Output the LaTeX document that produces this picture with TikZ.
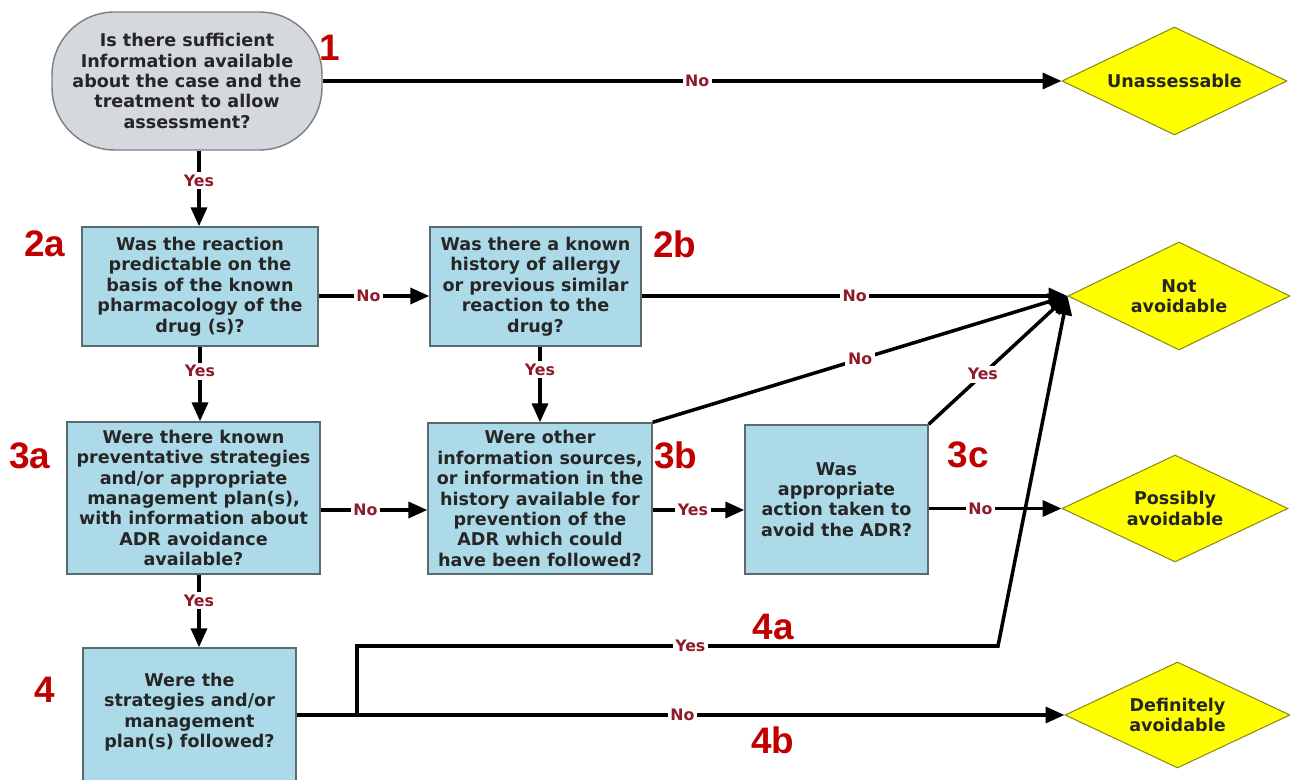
\documentclass[tikz,border=0pt]{standalone}
\usepackage{fontspec}
\setmainfont{DejaVu Sans}
\newfontfamily\numfont{Liberation Sans}
\usetikzlibrary{shapes.geometric,arrows.meta}
\definecolor{boxblue}{HTML}{ADDAE8}
\definecolor{boxedge}{HTML}{5A6A70}
\definecolor{startgray}{HTML}{D5D8DC}
\definecolor{startedge}{HTML}{7A7F85}
\definecolor{diayellow}{HTML}{FFFF00}
\definecolor{diaedge}{HTML}{8A8A20}
\definecolor{lblred}{HTML}{8E1B2B}
\definecolor{numred}{HTML}{C00000}
\begin{document}
\begin{tikzpicture}[x=0.02cm,y=-0.02cm,
  qbox/.style={draw=boxedge, line width=0.8pt, fill=boxblue, align=center,
    font=\bfseries\fontsize{10}{11.6}\selectfont, inner sep=0pt, text=black!85},
  startbox/.style={draw=startedge, line width=0.8pt, fill=startgray, align=center,
    rounded corners=1.25cm, font=\bfseries\fontsize{10}{11.6}\selectfont, inner sep=0pt, text=black!85},
  outcome/.style={diamond, aspect=2, draw=diaedge, line width=0.6pt, fill=diayellow, align=center,
    font=\bfseries\fontsize{10}{11.5}\selectfont, inner sep=0pt, text=black!85},
  conn/.style={line width=2pt, draw=black},
  arr/.style={conn, -{Triangle[length=0.38cm,width=0.32cm]}},
  lbl/.style={fill=white, inner sep=1.5pt, text=lblred, font=\bfseries\fontsize{9}{10}\selectfont},
  num/.style={text=numred, font=\numfont\bfseries\fontsize{21}{21}\selectfont, inner sep=0pt}
]
\useasboundingbox (0,0) rectangle (1295,780);
\fill[white] (0,0) rectangle (1295,780);

% nodes
\node[startbox, minimum width=5.4cm, minimum height=2.76cm] (n1) at (187,81)
  {Is there sufficient\\Information available\\about the case and the\\treatment to allow\\assessment?};
\node[qbox, minimum width=4.72cm, minimum height=2.38cm] (b2a) at (200,286.5)
  {Was the reaction\\predictable on the\\basis of the known\\pharmacology of the\\drug (s)?};
\node[qbox, minimum width=4.22cm, minimum height=2.38cm] (b2b) at (535.5,286.5)
  {Was there a known\\history of allergy\\or previous similar\\reaction to the\\drug?};
\node[qbox, minimum width=5.06cm, minimum height=3.04cm] (b3a) at (193.5,498)
  {Were there known\\preventative strategies\\and/or appropriate\\management plan(s),\\with information about\\ADR avoidance\\available?};
\node[qbox, minimum width=4.48cm, minimum height=3.02cm] (b3b) at (540,498.5)
  {Were other\\information sources,\\or information in the\\history available for\\prevention of the\\ADR which could\\have been followed?};
\node[qbox, minimum width=3.66cm, minimum height=2.98cm] (b3c) at (836.5,499.5)
  {Was\\appropriate\\action taken to\\avoid the ADR?};
\node[qbox, minimum width=4.26cm, minimum height=3.0cm] (b4) at (189.5,723) {};
\node[align=center, font=\bfseries\fontsize{10}{11.6}\selectfont, text=black!85, inner sep=0pt] (t4) at (189.5,712)
  {Were the\\strategies and/or\\management\\plan(s) followed?};

\node[outcome, minimum width=4.5cm, minimum height=2.16cm] (una) at (1174.5,81) {Unassessable};
\node[outcome, minimum width=4.44cm, minimum height=2.16cm] (nav) at (1179,296) {Not\\avoidable};
\node[outcome, minimum width=4.52cm, minimum height=2.14cm] (pos) at (1175,508.5) {Possibly\\avoidable};
\node[outcome, minimum width=4.5cm, minimum height=2.12cm] (def) at (1177.5,715) {Definitely\\avoidable};

% helper coordinates
\coordinate (y296) at (0,296);
\coordinate (y510) at (0,510);
\coordinate (x199) at (199,0);
\coordinate (bend) at (998,646);
\coordinate (split) at (357,715);

% connectors
\draw[arr] (n1.east) -- node[lbl, pos=0.507] {No} (una.west);
\draw[arr] (x199 |- n1.south) -- node[lbl, pos=0.4] {Yes} (x199 |- b2a.north);
\draw[arr] (b2a.east |- y296) -- node[lbl, pos=0.45] {No} (b2b.west |- y296);
\draw[arr] (b2b.east |- nav.west) -- node[lbl, pos=0.5] {No} (nav.west);
\draw[arr] (b2a.south) -- node[lbl, pos=0.33] {Yes} (b2a.south |- b3a.north);
\draw[arr] (b3b.north |- b2b.south) -- node[lbl, pos=0.3] {Yes} (b3b.north);
\draw[arr] (b3a.east |- y510) -- node[lbl, pos=0.42] {No} (b3b.west |- y510);
\draw[arr] (b3b.east |- y510) -- node[lbl, pos=0.44] {Yes} (b3c.west |- y510);
\draw[arr] (b3c.east |- pos.west) -- node[lbl, pos=0.39] {No} (pos.west);
\draw[arr] (b3b.north east) -- node[lbl, pos=0.5] {No} (nav.west);
\draw[arr] (b3c.north east) -- node[lbl, pos=0.39] {Yes} (nav.west);
\draw[arr] (x199 |- b3a.south) -- node[lbl, pos=0.36] {Yes} (x199 |- b4.north);
\draw[conn] (b4.east |- split) -- (split);
\draw[arr] (split) -- (split |- bend) -- node[lbl, pos=0.52] {Yes} (bend) -- (nav.west);
\draw[arr] (split) -- node[lbl, pos=0.46] {No} (def.west);

% step numbers
\node[num] (k1) at (330,48) {1};
\node[num] (k2a) at (45,244) {2a};
\node[num] (k2b) at (675,244) {2b};
\node[num] (k3a) at (30,456) {3a};
\node[num] (k3b) at (676,455) {3b};
\node[num] (k3c) at (968,455) {3c};
\node[num] (k4) at (45,690) {4};
\node[num] (k4a) at (773,627) {4a};
\node[num] (k4b) at (773,740) {4b};
\end{tikzpicture}
\end{document}
